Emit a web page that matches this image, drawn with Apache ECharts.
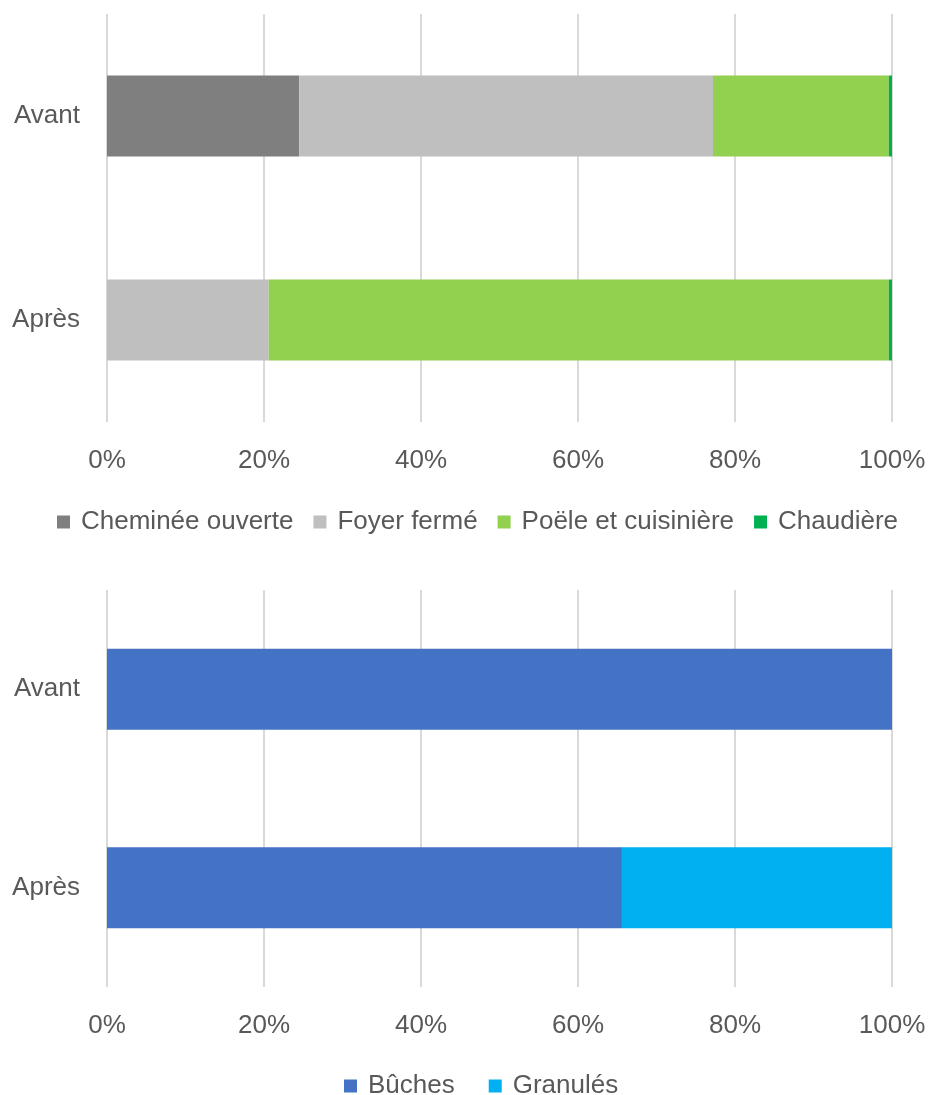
<!DOCTYPE html>
<html>
<head>
<meta charset="utf-8">
<script src="https://cdn.jsdelivr.net/npm/echarts@6/dist/echarts.min.js"></script>
<style>
  html, body { margin: 0; padding: 0; background: #fff; }
  #chart { width: 929px; height: 1095px; }
</style>
</head>
<body>
<div id="chart"></div>
<script>
// catégories (Avant en haut)
const categories = ["Avant", "Après"];
const xTicks = [0, 20, 40, 60, 80, 100];

// équipement (%)
const chemineeOuverte = [24.5, 0];
const foyerFerme = [52.7, 20.6];
const poeleCuisiniere = [22.4, 79.0];
const chaudiere = [0.4, 0.4];

// combustible (%)
const buches = [100, 65.6];
const granules = [0, 34.4];

const textColor = "#595959";
const fontFamily = "Liberation Sans, Arial, sans-serif";

const chart = echarts.init(document.getElementById("chart"));

function xAxisFor(gridIndex) {
    return {
        type: "value",
        gridIndex: gridIndex,
        min: 0,
        max: 100,
        interval: 20,
        axisLine: { show: false },
        axisTick: { show: false },
        axisLabel: {
            color: textColor,
            fontSize: 26,
            fontFamily: fontFamily,
            margin: 26,
            formatter: (v) => (xTicks.includes(v) ? v + "%" : ""),
        },
        splitLine: { show: true, lineStyle: { color: "#d9d9d9", width: 2 } },
    };
}

function yAxisFor(gridIndex) {
    return {
        type: "category",
        gridIndex: gridIndex,
        data: categories,
        inverse: true,
        axisLine: { show: false },
        axisTick: { show: false },
        axisLabel: {
            color: textColor,
            fontSize: 26,
            fontFamily: fontFamily,
            margin: 27,
        },
    };
}

function barSeries(name, data, color, idx, stack) {
    return {
        name: name,
        type: "bar",
        stack: stack,
        xAxisIndex: idx,
        yAxisIndex: idx,
        barWidth: 81,
        data: data,
        itemStyle: { color: color },
        emphasis: { disabled: true },
    };
}

const legendText = {
    color: textColor,
    fontSize: 26,
    fontFamily: fontFamily,
    padding: [0, 0, 0, 6],
};

chart.setOption({
    animation: false,
    grid: [
        { left: 107, right: 37, top: 14, height: 408 },
        { left: 107, right: 37, top: 590, height: 397 },
    ],
    xAxis: [xAxisFor(0), xAxisFor(1)],
    yAxis: [yAxisFor(0), yAxisFor(1)],
    legend: [
        {
            data: ["Cheminée ouverte", "Foyer fermé", "Poële et cuisinière", "Chaudière"],
            top: 504,
            left: 52,
            icon: "rect",
            itemWidth: 13,
            itemHeight: 13,
            itemGap: 20,
            textStyle: legendText,
        },
        {
            data: ["Bûches", "Granulés"],
            top: 1068,
            left: 339,
            icon: "rect",
            itemWidth: 13,
            itemHeight: 13,
            itemGap: 34,
            textStyle: legendText,
        },
    ],
    series: [
        barSeries("Cheminée ouverte", chemineeOuverte, "#7f7f7f", 0, "equip"),
        barSeries("Foyer fermé", foyerFerme, "#bfbfbf", 0, "equip"),
        barSeries("Poële et cuisinière", poeleCuisiniere, "#92d050", 0, "equip"),
        barSeries("Chaudière", chaudiere, "#00b050", 0, "equip"),
        barSeries("Bûches", buches, "#4472c4", 1, "combu"),
        barSeries("Granulés", granules, "#00b0f0", 1, "combu"),
    ],
});
</script>
</body>
</html>
